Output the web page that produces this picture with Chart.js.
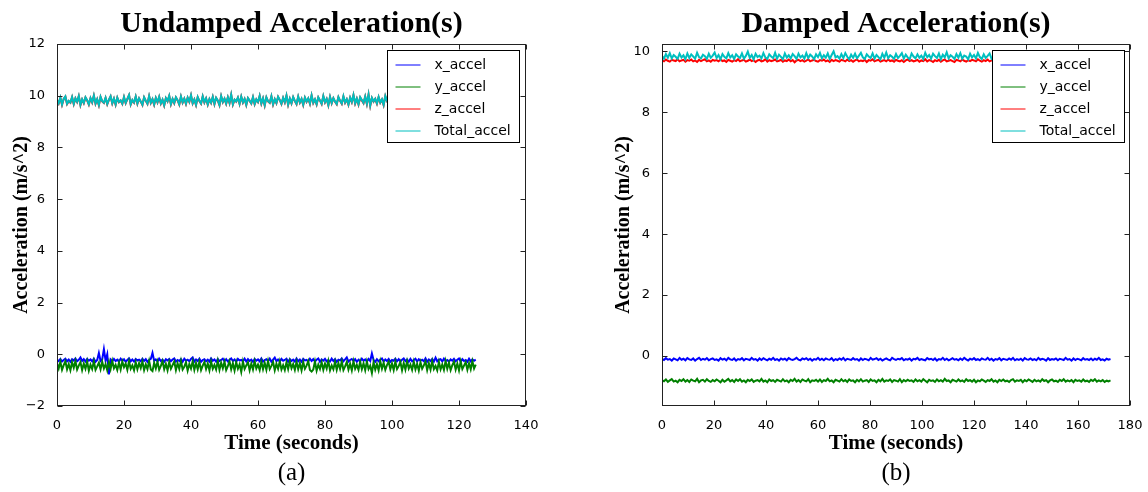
<!DOCTYPE html>
<html>
<head>
<meta charset="utf-8">
<title>Acceleration</title>
<script src="https://cdn.jsdelivr.net/npm/chart.js@4.4.1/dist/chart.umd.min.js"></script>
<style>
  html, body { margin: 0; padding: 0; background: #fff; }
  body { width: 1148px; height: 492px; position: relative; overflow: hidden; }
  .panel { position: absolute; top: 0; }
  #undampedWrap { left: 0; }
  #dampedWrap { left: 580px; }
</style>
</head>
<body>
<div class="panel" id="undampedWrap"><canvas id="undamped" width="560" height="492"></canvas></div>
<div class="panel" id="dampedWrap"><canvas id="damped" width="568" height="492"></canvas></div>
<script>
// Series names and line colours (same for both panels)
const seriesNames = ['x_accel', 'y_accel', 'z_accel', 'Total_accel'];
const seriesColors = ['#0000ff', '#008000', '#ff0000', '#00bfbf'];

// Undamped run, one sample every 0.5 s (0 .. 125 s)
const undampedX = [
  -0.21, -0.26, -0.18, -0.28, -0.22, -0.17, -0.27, -0.20, -0.29, -0.19,
  -0.24, -0.16, -0.27, -0.21, -0.12, -0.26, -0.19, -0.28, -0.18, -0.25,
  -0.20, -0.27, -0.17, -0.29, -0.22, 0.05, -0.26, -0.19, 0.20, -0.24,
  0.00, -0.78, -0.20, -0.27, -0.18, -0.26, -0.21, -0.28, -0.17, -0.25,
  -0.19, -0.29, -0.22, -0.16, -0.27, -0.20, -0.28, -0.18, -0.24, -0.21,
  -0.27, -0.17, -0.26, -0.19, -0.29, -0.22, -0.18, 0.05, -0.25, -0.20,
  -0.28, -0.17, -0.26, -0.21, -0.29, -0.19, -0.24, -0.18, -0.27, -0.20,
  -0.16, -0.28, -0.22, -0.26, -0.19, -0.29, -0.17, -0.25, -0.21, -0.27,
  -0.18, -0.12, -0.28, -0.20, -0.26, -0.17, -0.29, -0.22, -0.19, -0.27,
  -0.21, -0.28, -0.16, -0.25, -0.20, -0.29, -0.18, -0.26, -0.22, -0.17,
  -0.27, -0.19, -0.28, -0.21, -0.16, -0.26, -0.20, -0.29, -0.18, -0.24,
  -0.22, -0.27, -0.17, -0.28, -0.19, -0.26, -0.21, -0.29, -0.18, -0.25,
  -0.20, -0.27, -0.16, -0.28, -0.22, -0.19, -0.26, -0.17, -0.29, -0.21,
  -0.13, -0.27, -0.20, -0.28, -0.18, -0.25, -0.22, -0.17, -0.29, -0.19,
  -0.26, -0.21, -0.28, -0.16, -0.27, -0.20, -0.29, -0.18, -0.24, -0.22,
  -0.27, -0.17, -0.26, -0.19, -0.28, -0.21, -0.16, -0.29, -0.20, -0.25,
  -0.18, -0.27, -0.22, -0.28, -0.17, -0.26, -0.19, -0.29, -0.21, -0.24,
  -0.16, -0.27, -0.20, -0.12, -0.28, -0.22, -0.18, -0.26, -0.19, -0.29,
  -0.21, -0.27, -0.17, -0.25, -0.20, -0.28, -0.18, -0.26, 0.03, -0.22,
  -0.29, -0.19, -0.27, -0.21, -0.16, -0.28, -0.20, -0.26, -0.18, -0.29,
  -0.22, -0.25, -0.17, -0.27, -0.19, -0.28, -0.21, -0.16, -0.26, -0.20,
  -0.29, -0.18, -0.27, -0.22, -0.17, -0.28, -0.19, -0.25, -0.21, -0.27,
  -0.16, -0.29, -0.20, -0.26, -0.18, -0.28, -0.13, -0.27, -0.21, -0.19,
  -0.28, -0.17, -0.26, -0.22, -0.29, -0.20, -0.25, -0.18, -0.27, -0.21,
  -0.16, -0.28, -0.19, -0.26, -0.22, -0.29, -0.17, -0.27, -0.20, -0.25,
  -0.21
];
const undampedY = [
  -0.35, -0.55, -0.29, -0.60, -0.42, -0.27, -0.58, -0.38, -0.62, -0.31,
  -0.52, -0.26, -0.59, -0.44, -0.30, -0.61, -0.36, -0.56, -0.28, -0.63,
  -0.40, -0.57, -0.27, -0.60, -0.47, -0.33, -0.58, -0.29, -0.55, -0.38,
  -0.62, -0.30, -0.57, -0.26, -0.54, -0.41, -0.61, -0.32, -0.59, -0.28,
  -0.50, -0.36, -0.60, -0.27, -0.56, -0.43, -0.62, -0.31, -0.58, -0.34,
  -0.53, -0.28, -0.61, -0.39, -0.57, -0.26, -0.59, -0.65, -0.33, -0.55,
  -0.29, -0.60, -0.45, -0.27, -0.58, -0.37, -0.62, -0.30, -0.56, -0.42,
  -0.28, -0.61, -0.35, -0.57, -0.26, -0.59, -0.48, -0.31, -0.63, -0.38,
  -0.55, -0.27, -0.60, -0.34, -0.58, -0.29, -0.61, -0.44, -0.30, -0.57,
  -0.36, -0.62, -0.28, -0.56, -0.41, -0.59, -0.26, -0.60, -0.33, -0.54,
  -0.29, -0.61, -0.46, -0.27, -0.58, -0.35, -0.63, -0.30, -0.56, -0.39,
  -0.68, -0.28, -0.57, -0.43, -0.31, -0.62, -0.36, -0.59, -0.27, -0.55,
  -0.40, -0.61, -0.29, -0.58, -0.33, -0.60, -0.26, -0.57, -0.45, -0.30,
  -0.62, -0.37, -0.56, -0.28, -0.59, -0.42, -0.61, -0.31, -0.57, -0.27,
  -0.54, -0.38, -0.60, -0.29, -0.58, -0.35, -0.62, -0.30, -0.56, -0.44,
  -0.27, -0.61, -0.67, -0.59, -0.28, -0.63, -0.40, -0.57, -0.31, -0.60,
  -0.36, -0.55, -0.26, -0.62, -0.43, -0.58, -0.29, -0.60, -0.34, -0.57,
  -0.28, -0.61, -0.47, -0.30, -0.59, -0.37, -0.62, -0.27, -0.56, -0.41,
  -0.60, -0.29, -0.58, -0.35, -0.61, -0.28, -0.57, -0.44, -0.72, -0.31,
  -0.59, -0.38, -0.62, -0.27, -0.56, -0.33, -0.60, -0.42, -0.29, -0.58,
  -0.36, -0.61, -0.28, -0.57, -0.46, -0.30, -0.62, -0.34, -0.59, -0.27,
  -0.55, -0.40, -0.60, -0.29, -0.58, -0.37, -0.63, -0.31, -0.56, -0.43,
  -0.28, -0.61, -0.35, -0.59, -0.27, -0.57, -0.45, -0.62, -0.30, -0.58,
  -0.39, -0.60, -0.26, -0.56, -0.33, -0.61, -0.42, -0.29, -0.59, -0.36,
  -0.62, -0.28, -0.57, -0.44, -0.31, -0.60, -0.35, -0.58, -0.27, -0.55,
  -0.40
];
const undampedZ = [
  9.83, 9.70, 9.92, 9.65, 9.87, 9.96, 9.68, 9.79, 9.73, 9.94,
  9.67, 9.89, 9.76, 9.98, 9.64, 9.85, 9.71, 9.93, 9.82, 9.66,
  9.90, 9.74, 10.00, 9.69, 9.86, 9.63, 9.95, 9.78, 9.72, 9.91,
  9.67, 9.84, 9.97, 9.70, 9.88, 9.65, 9.92, 9.75, 9.81, 9.68,
  9.94, 9.71, 9.87, 10.02, 9.66, 9.83, 9.73, 9.96, 9.69, 9.89,
  9.77, 9.64, 9.93, 9.80, 9.68, 9.98, 9.72, 9.86, 9.65, 9.91,
  9.74, 9.95, 9.69, 9.84, 9.62, 9.90, 9.78, 9.99, 9.67, 9.87,
  9.71, 9.93, 9.82, 9.66, 9.96, 9.73, 9.88, 9.68, 9.92, 9.76,
  10.01, 9.70, 9.85, 9.64, 9.94, 9.79, 9.69, 9.97, 9.74, 9.89,
  9.65, 9.86, 9.72, 9.95, 9.67, 9.91, 9.81, 9.63, 9.98, 9.75,
  9.88, 9.69, 9.93, 9.71, 10.03, 9.66, 9.84, 9.77, 9.92, 9.68,
  9.96, 9.73, 9.87, 9.64, 9.90, 9.80, 9.70, 9.94, 9.67, 9.85,
  9.75, 9.99, 9.69, 9.89, 9.62, 9.93, 9.78, 9.72, 9.97, 9.66,
  9.86, 9.71, 9.95, 9.83, 9.68, 9.91, 9.74, 10.00, 9.65, 9.88,
  9.70, 9.94, 9.79, 9.67, 9.96, 9.73, 9.87, 9.64, 9.92, 9.76,
  9.89, 9.69, 10.01, 9.72, 9.85, 9.66, 9.93, 9.81, 9.68, 9.98,
  9.74, 9.87, 9.63, 9.95, 9.71, 9.90, 9.77, 9.67, 9.94, 9.80,
  9.69, 9.97, 9.73, 9.86, 9.65, 9.92, 9.75, 10.02, 9.70, 9.88,
  9.66, 9.93, 9.82, 9.71, 9.96, 9.68, 10.04, 9.61, 9.91, 9.77,
  9.87, 9.69, 9.94, 9.73, 9.85, 9.64, 9.98, 9.79, 9.67, 9.92,
  9.75, 9.89, 9.70, 10.00, 9.66, 9.86, 9.72, 9.95, 9.81, 9.68,
  9.93, 9.74, 9.88, 9.63, 9.97, 9.71, 9.84, 9.69, 9.91, 9.78,
  9.67, 10.01, 9.73, 9.87, 9.65, 9.94, 9.80, 9.70, 9.96, 9.75,
  9.89, 9.66, 9.92, 9.77, 9.68, 9.98, 9.72, 9.85, 9.64, 9.93,
  9.76, 9.90, 9.69, 9.99, 9.71, 9.86, 9.67, 9.94, 9.79, 9.73,
  9.88
];
const undampedTotal = [
  9.84, 9.71, 9.93, 9.66, 9.88, 9.97, 9.69, 9.80, 9.74, 9.95,
  9.68, 9.90, 9.77, 9.99, 9.65, 9.86, 9.72, 9.94, 9.83, 9.67,
  9.91, 9.75, 10.01, 9.70, 9.87, 9.64, 9.96, 9.79, 9.73, 9.92,
  9.68, 9.85, 9.98, 9.71, 9.89, 9.66, 9.93, 9.76, 9.82, 9.69,
  9.95, 9.72, 9.88, 10.03, 9.67, 9.84, 9.74, 9.97, 9.70, 9.90,
  9.78, 9.65, 9.94, 9.81, 9.69, 9.99, 9.73, 9.87, 9.66, 9.92,
  9.75, 9.96, 9.70, 9.85, 9.63, 9.91, 9.79, 10.00, 9.68, 9.88,
  9.72, 9.94, 9.83, 9.67, 9.97, 9.74, 9.89, 9.69, 9.93, 9.77,
  10.02, 9.71, 9.86, 9.65, 9.95, 9.80, 9.70, 9.98, 9.75, 9.90,
  9.66, 9.87, 9.73, 9.96, 9.68, 9.92, 9.82, 9.64, 9.99, 9.76,
  9.89, 9.70, 9.94, 9.72, 10.04, 9.67, 9.85, 9.78, 9.93, 9.69,
  9.97, 9.74, 9.88, 9.65, 9.91, 9.81, 9.71, 9.95, 9.68, 9.86,
  9.76, 10.00, 9.70, 9.90, 9.63, 9.94, 9.79, 9.73, 9.98, 9.67,
  9.87, 9.72, 9.96, 9.84, 9.69, 9.92, 9.75, 10.01, 9.66, 9.89,
  9.71, 9.95, 9.80, 9.68, 9.97, 9.74, 9.88, 9.65, 9.93, 9.77,
  9.90, 9.70, 10.02, 9.73, 9.86, 9.67, 9.94, 9.82, 9.69, 9.99,
  9.75, 9.88, 9.64, 9.96, 9.72, 9.91, 9.78, 9.68, 9.95, 9.81,
  9.70, 9.98, 9.74, 9.87, 9.66, 9.93, 9.76, 10.03, 9.71, 9.89,
  9.67, 9.94, 9.83, 9.72, 9.97, 9.69, 10.05, 9.62, 9.92, 9.78,
  9.88, 9.70, 9.95, 9.74, 9.86, 9.65, 9.99, 9.80, 9.68, 9.93,
  9.76, 9.90, 9.71, 10.01, 9.67, 9.87, 9.73, 9.96, 9.82, 9.69,
  9.94, 9.75, 9.89, 9.64, 9.98, 9.72, 9.85, 9.70, 9.92, 9.79,
  9.68, 10.02, 9.74, 9.88, 9.66, 9.95, 9.81, 9.71, 9.97, 9.76,
  9.90, 9.67, 9.93, 9.78, 9.69, 9.99, 9.73, 9.86, 9.65, 9.94,
  9.77, 9.91, 9.70, 10.00, 9.72, 9.87, 9.68, 9.95, 9.80, 9.74,
  9.89
];

// Damped run, one sample every 0.75 s (0 .. 172.5 s)
const dampedX = [
  -0.09, -0.13, -0.07, -0.12, -0.10, -0.15, -0.08, -0.11, -0.14, -0.06,
  -0.12, -0.09, -0.14, -0.07, -0.11, -0.13, -0.08, -0.15, -0.10, -0.06,
  -0.13, -0.09, -0.12, -0.07, -0.14, -0.10, -0.08, -0.13, -0.11, -0.15,
  -0.07, -0.12, -0.09, -0.14, -0.06, -0.11, -0.13, -0.08, -0.15, -0.10,
  -0.12, -0.07, -0.14, -0.09, -0.11, -0.13, -0.06, -0.12, -0.10, -0.15,
  -0.08, -0.13, -0.07, -0.11, -0.14, -0.09, -0.12, -0.06, -0.13, -0.10,
  -0.15, -0.08, -0.12, -0.09, -0.14, -0.07, -0.11, -0.13, -0.10, -0.06,
  -0.12, -0.14, -0.08, -0.11, -0.07, -0.13, -0.09, -0.15, -0.10, -0.12,
  -0.06, -0.13, -0.09, -0.14, -0.08, -0.11, -0.12, -0.07, -0.15, -0.10,
  -0.13, -0.08, -0.12, -0.06, -0.14, -0.09, -0.11, -0.13, -0.07, -0.12,
  -0.10, -0.15, -0.08, -0.13, -0.09, -0.11, -0.14, -0.06, -0.12, -0.10,
  -0.07, -0.13, -0.09, -0.15, -0.11, -0.08, -0.12, -0.14, -0.06, -0.10,
  -0.13, -0.09, -0.11, -0.07, -0.14, -0.10, -0.12, -0.08, -0.15, -0.09,
  -0.11, -0.06, -0.13, -0.10, -0.12, -0.14, -0.07, -0.11, -0.09, -0.13,
  -0.08, -0.15, -0.10, -0.12, -0.06, -0.13, -0.09, -0.14, -0.11, -0.07,
  -0.12, -0.10, -0.14, -0.08, -0.13, -0.06, -0.11, -0.15, -0.09, -0.12,
  -0.07, -0.13, -0.10, -0.14, -0.08, -0.11, -0.12, -0.06, -0.13, -0.09,
  -0.15, -0.10, -0.12, -0.07, -0.14, -0.09, -0.11, -0.13, -0.08, -0.12,
  -0.06, -0.14, -0.10, -0.13, -0.09, -0.15, -0.07, -0.11, -0.12, -0.08,
  -0.13, -0.10, -0.14, -0.06, -0.12, -0.09, -0.11, -0.15, -0.07, -0.13,
  -0.10, -0.12, -0.08, -0.14, -0.09, -0.11, -0.13, -0.06, -0.12, -0.10,
  -0.15, -0.08, -0.13, -0.09, -0.11, -0.14, -0.07, -0.12, -0.10, -0.13,
  -0.08, -0.14, -0.09, -0.12, -0.06, -0.13, -0.11, -0.15, -0.09, -0.12,
  -0.10
];
const dampedY = [
  -0.79, -0.83, -0.77, -0.85, -0.80, -0.76, -0.84, -0.81, -0.86, -0.78,
  -0.82, -0.76, -0.84, -0.79, -0.85, -0.77, -0.81, -0.83, -0.75, -0.86,
  -0.80, -0.78, -0.84, -0.76, -0.82, -0.85, -0.79, -0.83, -0.77, -0.81,
  -0.86, -0.78, -0.84, -0.80, -0.75, -0.83, -0.79, -0.85, -0.77, -0.82,
  -0.76, -0.84, -0.80, -0.86, -0.78, -0.82, -0.77, -0.85, -0.81, -0.79,
  -0.83, -0.75, -0.84, -0.80, -0.86, -0.77, -0.82, -0.79, -0.85, -0.78,
  -0.81, -0.84, -0.76, -0.83, -0.80, -0.86, -0.78, -0.82, -0.75, -0.84,
  -0.79, -0.85, -0.77, -0.81, -0.83, -0.76, -0.86, -0.80, -0.82, -0.78,
  -0.84, -0.77, -0.85, -0.79, -0.82, -0.75, -0.83, -0.80, -0.86, -0.78,
  -0.81, -0.84, -0.76, -0.83, -0.79, -0.85, -0.77, -0.82, -0.80, -0.86,
  -0.78, -0.83, -0.76, -0.84, -0.81, -0.79, -0.85, -0.77, -0.82, -0.80,
  -0.86, -0.78, -0.83, -0.75, -0.84, -0.80, -0.82, -0.77, -0.85, -0.79,
  -0.81, -0.84, -0.76, -0.86, -0.79, -0.83, -0.78, -0.82, -0.80, -0.85,
  -0.77, -0.83, -0.79, -0.84, -0.76, -0.81, -0.86, -0.78, -0.82, -0.80,
  -0.85, -0.77, -0.83, -0.79, -0.84, -0.75, -0.82, -0.80, -0.86, -0.78,
  -0.81, -0.84, -0.77, -0.83, -0.80, -0.85, -0.76, -0.82, -0.79, -0.84,
  -0.78, -0.86, -0.80, -0.83, -0.77, -0.81, -0.85, -0.79, -0.82, -0.76,
  -0.84, -0.80, -0.86, -0.78, -0.82, -0.77, -0.83, -0.81, -0.85, -0.79,
  -0.76, -0.84, -0.80, -0.82, -0.78, -0.86, -0.79, -0.83, -0.77, -0.81,
  -0.85, -0.78, -0.83, -0.80, -0.84, -0.76, -0.82, -0.79, -0.86, -0.80,
  -0.77, -0.83, -0.81, -0.85, -0.78, -0.82, -0.76, -0.84, -0.80, -0.83,
  -0.79, -0.86, -0.78, -0.82, -0.80, -0.84, -0.77, -0.83, -0.81, -0.85,
  -0.78, -0.82, -0.76, -0.84, -0.80, -0.83, -0.79, -0.85, -0.81, -0.83,
  -0.80
];
const dampedZ = [
  9.71, 9.67, 9.73, 9.69, 9.66, 9.72, 9.70, 9.68, 9.74, 9.67,
  9.70, 9.72, 9.66, 9.71, 9.69, 9.73, 9.67, 9.70, 9.65, 9.72,
  9.68, 9.71, 9.74, 9.67, 9.70, 9.66, 9.72, 9.69, 9.71, 9.67,
  9.73, 9.68, 9.70, 9.65, 9.72, 9.69, 9.66, 9.71, 9.68, 9.74,
  9.67, 9.70, 9.72, 9.66, 9.69, 9.73, 9.68, 9.71, 9.65, 9.70,
  9.72, 9.67, 9.69, 9.74, 9.66, 9.71, 9.68, 9.70, 9.73, 9.67,
  9.69, 9.72, 9.66, 9.70, 9.68, 9.73, 9.67, 9.71, 9.64, 9.70,
  9.72, 9.68, 9.71, 9.66, 9.69, 9.74, 9.67, 9.70, 9.72, 9.68,
  9.66, 9.71, 9.69, 9.73, 9.67, 9.70, 9.65, 9.72, 9.68, 9.71,
  9.69, 9.66, 9.72, 9.70, 9.67, 9.73, 9.68, 9.71, 9.66, 9.70,
  9.73, 9.67, 9.70, 9.68, 9.72, 9.65, 9.71, 9.69, 9.74, 9.67,
  9.70, 9.72, 9.66, 9.69, 9.71, 9.67, 9.73, 9.68, 9.70, 9.66,
  9.72, 9.69, 9.67, 9.71, 9.65, 9.70, 9.73, 9.68, 9.71, 9.67,
  9.69, 9.72, 9.66, 9.70, 9.68, 9.74, 9.67, 9.71, 9.69, 9.65,
  9.71, 9.68, 9.72, 9.66, 9.70, 9.73, 9.67, 9.69, 9.71, 9.68,
  9.65, 9.72, 9.70, 9.67, 9.73, 9.69, 9.66, 9.71, 9.68, 9.72,
  9.70, 9.67, 9.74, 9.69, 9.66, 9.71, 9.68, 9.73, 9.67, 9.70,
  9.72, 9.66, 9.69, 9.71, 9.68, 9.73, 9.65, 9.70, 9.72, 9.67,
  9.69, 9.71, 9.67, 9.73, 9.70, 9.66, 9.72, 9.68, 9.71, 9.69,
  9.66, 9.72, 9.70, 9.67, 9.74, 9.68, 9.71, 9.65, 9.70, 9.72,
  9.68, 9.71, 9.66, 9.73, 9.69, 9.70, 9.67, 9.72, 9.68, 9.71,
  9.65, 9.70, 9.72, 9.68, 9.71, 9.67, 9.73, 9.69, 9.66, 9.71,
  9.70, 9.67, 9.72, 9.69, 9.66, 9.71, 9.68, 9.73, 9.70, 9.68,
  9.71
];
const dampedTotal = [
  9.85, 9.76, 9.91, 9.79, 9.94, 9.77, 9.88, 9.82, 9.75, 9.92,
  9.80, 9.87, 9.74, 9.93, 9.78, 9.90, 9.83, 9.76, 9.95, 9.81,
  9.77, 9.89, 9.84, 9.75, 9.92, 9.79, 9.86, 9.96, 9.78, 9.88,
  9.74, 9.91, 9.82, 9.77, 9.94, 9.80, 9.87, 9.75, 9.90, 9.83,
  9.78, 9.93, 9.76, 9.85, 9.99, 9.79, 9.88, 9.74, 9.92, 9.81,
  9.86, 9.77, 9.94, 9.80, 9.75, 9.90, 9.83, 9.78, 9.95, 9.76,
  9.89, 9.82, 9.74, 9.93, 9.79, 9.87, 9.77, 9.91, 9.84, 9.75,
  9.92, 9.80, 9.86, 9.76, 9.94, 9.78, 9.89, 9.83, 9.74, 9.90,
  9.81, 9.95, 9.77, 9.87, 9.79, 9.93, 9.75, 9.88, 10.00, 9.80,
  9.84, 9.76, 9.91, 9.78, 9.94, 9.82, 9.74, 9.89, 9.79, 9.92,
  9.77, 9.86, 9.95, 9.80, 9.75, 9.90, 9.83, 9.78, 9.93, 9.76,
  9.88, 9.81, 9.74, 9.92, 9.79, 9.96, 9.77, 9.87, 9.82, 9.75,
  9.91, 9.78, 9.85, 9.94, 9.76, 9.89, 9.80, 9.74, 9.93, 9.83,
  9.77, 9.90, 9.79, 9.86, 9.75, 9.95, 9.81, 9.88, 9.76, 9.92,
  9.84, 9.78, 9.93, 9.74, 9.89, 9.80, 9.97, 9.77, 9.87, 9.82,
  9.75, 9.91, 9.79, 9.94, 9.76, 9.86, 9.83, 9.74, 9.92, 9.80,
  9.88, 9.77, 9.95, 9.81, 9.75, 9.90, 9.78, 9.85, 9.93, 9.76,
  9.82, 9.89, 9.74, 9.92, 9.79, 9.87, 9.77, 9.96, 9.80, 9.75,
  9.91, 9.83, 9.76, 9.88, 9.94, 9.78, 9.86, 9.74, 9.90, 9.81,
  9.77, 9.93, 9.79, 9.85, 9.75, 9.92, 9.82, 9.88, 9.76, 9.95,
  9.80, 9.74, 9.89, 9.84, 9.77, 9.93, 9.79, 9.87, 9.75, 9.91,
  9.82, 9.78, 9.94, 9.76, 9.88, 9.81, 9.74, 9.92, 9.79, 9.86,
  9.77, 9.90, 9.83, 9.75, 9.93, 9.80, 9.87, 9.76, 9.91, 9.84,
  9.78
];

// Sample times
const undampedTime = undampedX.map((_, i) => i * 0.5);
const dampedTime = dampedX.map((_, i) => i * 0.75);

// Axis ticks
const undampedXTicks = [0, 20, 40, 60, 80, 100, 120, 140];
const undampedYTicks = [-2, 0, 2, 4, 6, 8, 10, 12];
const dampedXTicks = [0, 20, 40, 60, 80, 100, 120, 140, 160, 180];
const dampedYTicks = [0, 2, 4, 6, 8, 10];

const tickFont = { family: 'DejaVu Sans', size: 13 };
const xLabelFont = { family: 'Liberation Serif', size: 21, weight: 'bold' };
const yLabelFont = { family: 'Liberation Serif', size: 20, weight: 'bold' };

function fmtTick(v) {
    return v < 0 ? '\u2212' + Math.abs(v) : String(v);
}

function makeSeries(time, values, i) {
    return {
        label: seriesNames[i],
        data: time.map((t, k) => ({ x: t, y: values[k] })),
        borderColor: seriesColors[i],
        backgroundColor: seriesColors[i],
        borderWidth: 2,
        pointRadius: 0,
        tension: 0,
        fill: false,
        order: 3 - i   // later series drawn on top
    };
}

// Frame, inward ticks, legend box, title and caption
const panelDecor = {
    id: 'panelDecor',
    afterDatasetsDraw(chart, args, opts) {
        const { ctx, chartArea: a, scales: { x, y } } = chart;
        const L = Math.round(a.left) + 0.5, R = Math.round(a.right) - 0.5;
        const T = Math.round(a.top) + 0.5, B = Math.round(a.bottom) - 0.5;
        ctx.save();
        ctx.strokeStyle = '#222';
        ctx.lineWidth = 1;
        ctx.beginPath();
        x.ticks.forEach(t => {
            const px = Math.round(x.getPixelForValue(t.value)) + 0.5;
            ctx.moveTo(px, T); ctx.lineTo(px, T + 5);
            ctx.moveTo(px, B); ctx.lineTo(px, B - 5);
        });
        y.ticks.forEach(t => {
            const py = Math.round(y.getPixelForValue(t.value)) + 0.5;
            ctx.moveTo(L, py); ctx.lineTo(L + 5, py);
            ctx.moveTo(R, py); ctx.lineTo(R - 5, py);
        });
        ctx.stroke();
        ctx.strokeRect(L, T, R - L, B - T);

        // legend in the upper right corner
        const bw = 132, bh = 92;
        const bx = Math.round(a.right - opts.legendGap - bw) + 0.5;
        const by = Math.round(a.top + 6) + 0.5;
        ctx.fillStyle = '#fff';
        ctx.fillRect(bx, by, bw, bh);
        ctx.strokeStyle = '#000';
        ctx.strokeRect(bx, by, bw, bh);
        ctx.font = '14px "DejaVu Sans"';
        ctx.textBaseline = 'middle';
        ctx.textAlign = 'left';
        seriesNames.forEach((name, i) => {
            const ry = Math.round(by + 14 + i * 22);
            ctx.strokeStyle = seriesColors[i];
            ctx.beginPath();
            ctx.moveTo(bx + 8, ry);
            ctx.lineTo(bx + 33, ry);
            ctx.stroke();
            ctx.fillStyle = '#000';
            ctx.fillText(name, bx + 47, ry);
        });
        ctx.restore();
    },
    afterDraw(chart, args, opts) {
        const { ctx, chartArea: a } = chart;
        const cx = (a.left + a.right) / 2;
        ctx.save();
        ctx.fillStyle = '#000';
        ctx.textAlign = 'center';
        ctx.textBaseline = 'alphabetic';
        ctx.font = 'bold 30px "Liberation Serif"';
        ctx.fillText(opts.title, cx, 32);
        ctx.textBaseline = 'middle';
        ctx.font = '25px "Liberation Serif"';
        ctx.fillText(opts.caption, cx, 473);
        ctx.restore();
    }
};

function panelConfig(p) {
    return {
        type: 'line',
        data: {
            datasets: p.series.map((vals, i) => makeSeries(p.time, vals, i))
        },
        options: {
            responsive: false,
            animation: false,
            events: [],
            layout: { padding: { left: 0, top: 44, right: p.padRight, bottom: 0 } },
            plugins: {
                legend: { display: false },
                tooltip: { enabled: false },
                panelDecor: { title: p.title, caption: p.caption, legendGap: p.legendGap }
            },
            scales: {
                x: {
                    type: 'linear',
                    min: p.xTicks[0],
                    max: p.xTicks[p.xTicks.length - 1],
                    afterBuildTicks: s => { s.ticks = p.xTicks.map(v => ({ value: v })); },
                    afterFit: s => { s.height = 86; s.paddingLeft = 0; s.paddingRight = 0; },
                    grid: { display: false },
                    border: { display: false },
                    ticks: { font: tickFont, color: '#000', padding: 4, maxRotation: 0, autoSkip: false, callback: fmtTick },
                    title: { display: true, text: 'Time (seconds)', font: xLabelFont, color: '#000', padding: { top: 0, bottom: 36 } }
                },
                y: {
                    type: 'linear',
                    min: p.yMin,
                    max: p.yMax,
                    afterBuildTicks: s => { s.ticks = p.yTicks.map(v => ({ value: v })); },
                    afterFit: s => { s.width = p.yWidth; s.paddingTop = 0; s.paddingBottom = 0; },
                    grid: { display: false },
                    border: { display: false },
                    ticks: { font: tickFont, color: '#000', padding: 4, callback: fmtTick },
                    title: { display: true, text: 'Acceleration (m/s^2)', font: yLabelFont, color: '#000', padding: { top: p.yTitlePad, bottom: 0 } }
                }
            }
        },
        plugins: [panelDecor]
    };
}

new Chart(document.getElementById('undamped'), panelConfig({
    time: undampedTime,
    series: [undampedX, undampedY, undampedZ, undampedTotal],
    xTicks: undampedXTicks,
    yTicks: undampedYTicks,
    yMin: -2, yMax: 12,
    yWidth: 57, yTitlePad: 10, padRight: 34, legendGap: 7,
    title: 'Undamped Acceleration(s)',
    caption: '(a)'
}));

new Chart(document.getElementById('damped'), panelConfig({
    time: dampedTime,
    series: [dampedX, dampedY, dampedZ, dampedTotal],
    xTicks: dampedXTicks,
    yTicks: dampedYTicks,
    yMin: -1.64, yMax: 10.24,
    yWidth: 82, yTitlePad: 32, padRight: 18, legendGap: 6,
    title: 'Damped Acceleration(s)',
    caption: '(b)'
}));
</script>
</body>
</html>
